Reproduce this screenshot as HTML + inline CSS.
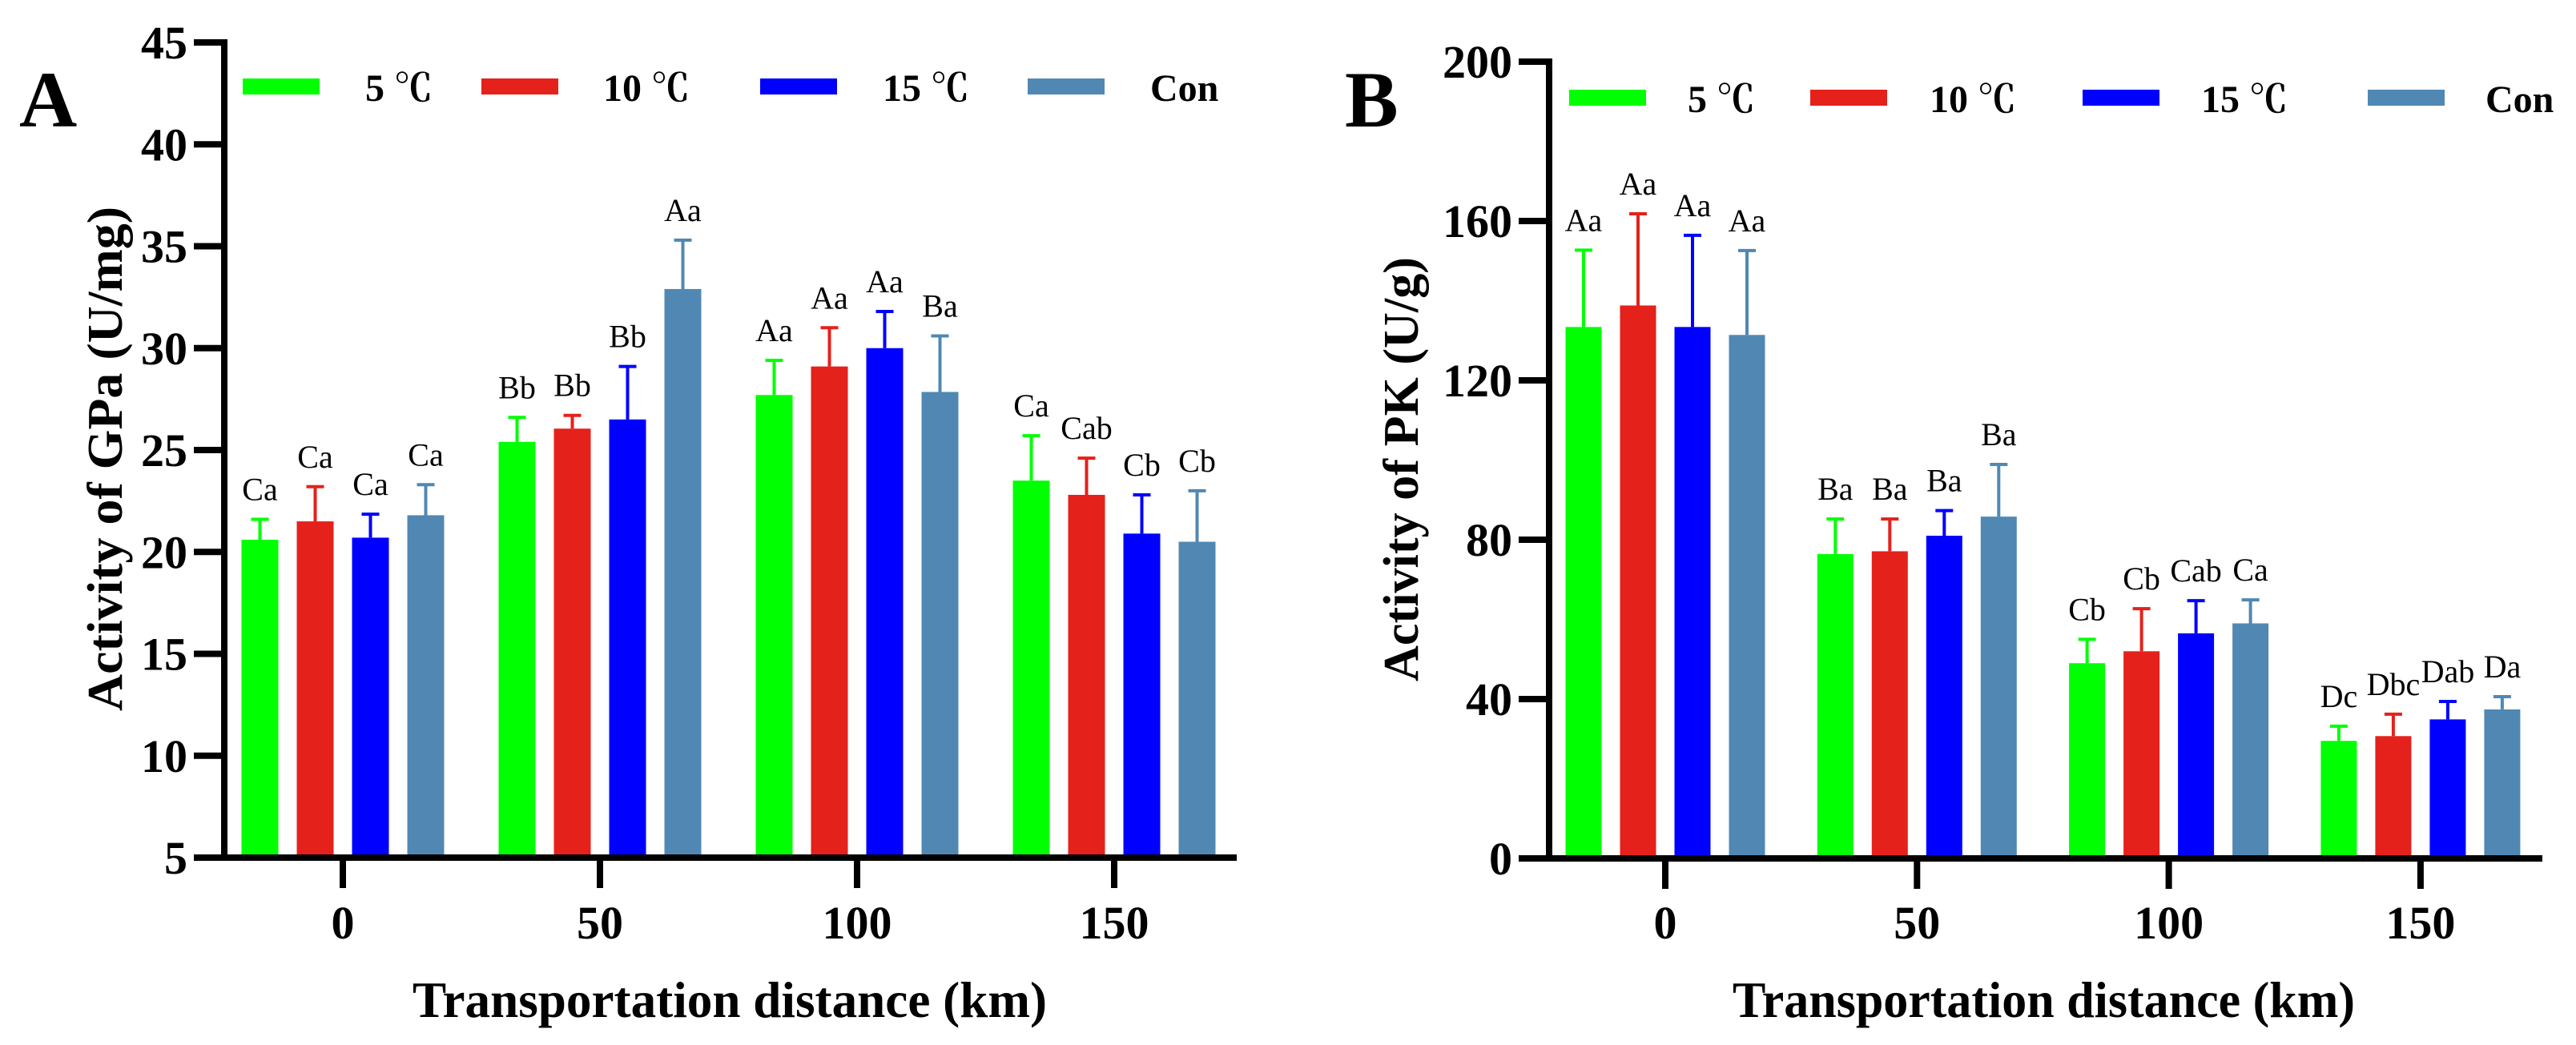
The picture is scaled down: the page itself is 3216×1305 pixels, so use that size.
<!DOCTYPE html>
<html><head><meta charset="utf-8"><title>GPa and PK activity</title>
<style>
html,body{margin:0;padding:0;background:#fff;}
svg{display:block;}
svg text{font-family:"Liberation Serif","Noto Serif CJK SC",serif;}
</style></head>
<body>
<svg id="fig" width="3216" height="1305" viewBox="0 0 3216 1305" xmlns="http://www.w3.org/2000/svg" font-family="'Liberation Serif', 'Noto Serif CJK SC', serif"></svg>
<script>
const categories = ["0","50","100","150"];
const seriesNames = ["5 ℃","10 ℃","15 ℃","Con"];
const seriesColors = ["#00ff00","#e5211b","#0000ff","#5088b3"];

const gpaT5 = [20.6, 25.4, 27.7, 23.5];
const gpaT10 = [21.5, 26.05, 29.1, 22.8];
const gpaT15 = [20.7, 26.5, 30.0, 20.9];
const gpaCon = [21.8, 32.9, 27.85, 20.5];
const gpaErrT5 = [21.6, 26.6, 29.4, 25.7];
const gpaErrT10 = [23.2, 26.7, 31.0, 24.6];
const gpaErrT15 = [21.85, 29.1, 31.8, 22.8];
const gpaErrCon = [23.3, 35.3, 30.6, 23.0];
const gpaLabels = [["Ca","Ca","Ca","Ca"],["Bb","Bb","Bb","Aa"],["Aa","Aa","Aa","Ba"],["Ca","Cab","Cb","Cb"]];
const gpaTicks = [5,10,15,20,25,30,35,40,45];

const pkT5 = [133.4, 76.4, 49.0, 29.5];
const pkT10 = [138.8, 77.1, 52.0, 30.7];
const pkT15 = [133.4, 81.0, 56.5, 34.9];
const pkCon = [131.4, 85.8, 59.0, 37.4];
const pkErrT5 = [152.7, 85.2, 55.0, 33.2];
const pkErrT10 = [161.8, 85.2, 62.7, 36.2];
const pkErrT15 = [156.4, 87.3, 64.7, 39.4];
const pkErrCon = [152.6, 98.9, 64.9, 40.6];
const pkLabels = [["Aa","Aa","Aa","Aa"],["Ba","Ba","Ba","Ba"],["Cb","Cb","Cab","Ca"],["Dc","Dbc","Dab","Da"]];
const pkTicks = [0,40,80,120,160,200];

const NS = "http://www.w3.org/2000/svg";
const FONT = "'Liberation Serif', 'Noto Serif CJK SC', serif";
const svg = document.getElementById("fig");
function mk(tag, attrs, parent, txt){
  const e = document.createElementNS(NS, tag);
  for (const k in attrs) e.setAttribute(k, attrs[k]);
  if (tag === "text") { e.setAttribute("font-family", FONT); e.style.fontFamily = FONT; }
  if (txt !== undefined) e.textContent = txt;
  (parent || svg).appendChild(e);
  return e;
}

function panel(cfg){
  const g = mk("g", {});
  
  
  const yScale = v => cfg.y0 - (v - cfg.vmin) / (cfg.vmax - cfg.vmin) * (cfg.y0 - cfg.y1);
  const xScale = i => cfg.x0tick + i * cfg.groupStep;

  const L = mk("text", {x: cfg.letterX, y: 158, "font-size": 100, "font-weight": "bold"}, g, cfg.letter);
  
  

  const series = cfg.series, errs = cfg.errs;
  for (let s = 0; s < series.length; s++) {
    for (let i = 0; i < categories.length; i++) {
      const cx = xScale(i) + (s - 1.5) * cfg.barPitch;
      const top = yScale(series[s][i]);
      const r = mk("rect", {x: cx - cfg.barW/2, y: top, width: cfg.barW, height: cfg.y0 - top, fill: seriesColors[s]}, g);
      
      
      const et = yScale(errs[s][i]);
      const eb = mk("path", {d: `M${cx} ${top} V${et} M${cx-11} ${et} H${cx+11}`, stroke: seriesColors[s], "stroke-width": 4, fill: "none"}, g);
      
      
      const lb = mk("text", {x: cx, y: et - 24, "font-size": 40, "text-anchor": "middle"}, g, cfg.labels[i][s]);
      
      
    }
  }

  const ax = mk("path", {d: `M${cfg.axisX} ${cfg.y1-4} V${cfg.y0} M${cfg.tickL} ${cfg.y0} H${cfg.xEnd}`, stroke: "#000", "stroke-width": 8, fill: "none"}, g);
  
  
  for (const t of cfg.ticks) {
    const y = yScale(t);
    const tk = mk("line", {x1: cfg.tickL, x2: cfg.axisX, y1: y, y2: y, stroke: "#000", "stroke-width": 8}, g);
    
    
    const tl = mk("text", {x: cfg.tickL - 8, y: y + 20, "font-size": 58, "font-weight": "bold", "text-anchor": "end"}, g, String(t));
    
    
  }
  for (let i = 0; i < categories.length; i++) {
    const x = xScale(i);
    const tk = mk("line", {x1: x, x2: x, y1: cfg.y0, y2: cfg.y0 + 38, stroke: "#000", "stroke-width": 8}, g);
    
    
    const tl = mk("text", {x: x, y: 1172, "font-size": 58, "font-weight": "bold", "text-anchor": "middle"}, g, categories[i]);
    
    
  }
  const xt = mk("text", {x: cfg.xTitleX, y: 1270, "font-size": 64, "font-weight": "bold", textLength: cfg.xTitleLen, lengthAdjust: "spacingAndGlyphs"}, g, "Transportation distance (km)");
  
  
  const yt = mk("text", {x: 0, y: 0, "font-size": 62, "font-weight": "bold", "text-anchor": "middle", textLength: cfg.yTitleLen, lengthAdjust: "spacingAndGlyphs", transform: `translate(${cfg.yTitleX},${cfg.yTitleY}) rotate(-90)`}, g, cfg.yTitle);
  
  

  for (let s = 0; s < 4; s++) {
    const lg = mk("g", {}, g);
    
    
    mk("rect", {x: cfg.legRect[s], y: cfg.legY, width: 96, height: 20, fill: seriesColors[s]}, lg);
    mk("text", {x: cfg.legText[s], y: cfg.legY + 28, "font-size": 48, "font-weight": "bold"}, lg, seriesNames[s]);
  }
}

panel({id:"gpa", letter:"A", letterX:24, vmin:5, vmax:45, y0:1071, y1:53, axisX:280, tickL:242, xEnd:1544,
  x0tick:428, groupStep:321, barPitch:69, barW:46, ticks:gpaTicks,
  series:[gpaT5,gpaT10,gpaT15,gpaCon], errs:[gpaErrT5,gpaErrT10,gpaErrT15,gpaErrCon], labels:gpaLabels,
  xTitleX:515, xTitleLen:792, yTitle:"Activity of GPa (U/mg)", yTitleX:152, yTitleY:573, yTitleLen:630,
  legRect:[303,601,949,1283], legText:[456,753,1102,1436], legY:98});

panel({id:"pk", letter:"B", letterX:1679, vmin:0, vmax:200, y0:1072, y1:77, axisX:1934, tickL:1896, xEnd:3174,
  x0tick:2079, groupStep:314.3, barPitch:68, barW:45, ticks:pkTicks,
  series:[pkT5,pkT10,pkT15,pkCon], errs:[pkErrT5,pkErrT10,pkErrT15,pkErrCon], labels:pkLabels,
  xTitleX:2163, xTitleLen:777, yTitle:"Activity of PK (U/g)", yTitleX:1770, yTitleY:586, yTitleLen:530,
  legRect:[1959,2260,2600,2956], legText:[2107,2409,2748,3103], legY:112});
</script>
</body></html>
